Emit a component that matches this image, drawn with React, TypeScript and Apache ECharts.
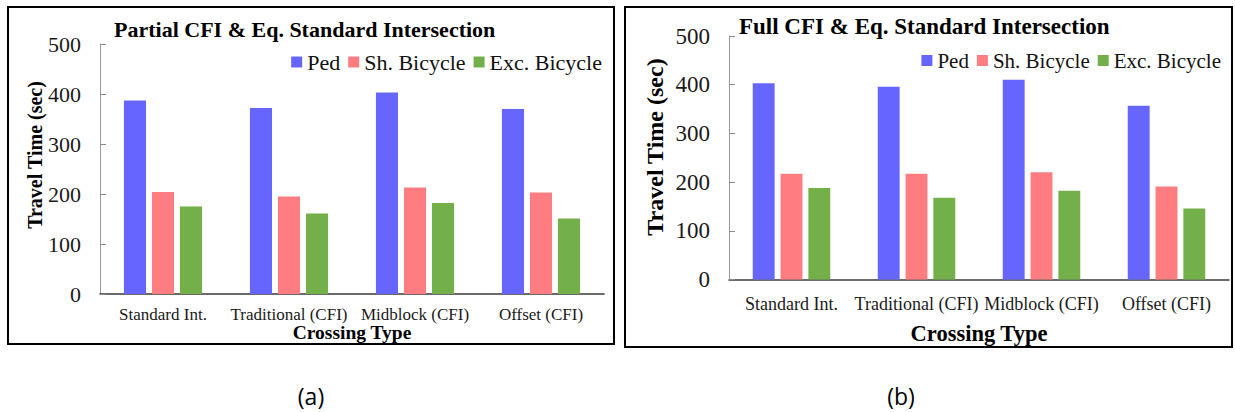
import React, { useEffect, useRef } from "react";
import * as echarts from "echarts";

// Crossing types shared by both panels
const categories = ["Standard Int.", "Traditional (CFI)", "Midblock (CFI)", "Offset (CFI)"];
const seriesNames = ["Ped", "Sh. Bicycle", "Exc. Bicycle"];

// Panel (a): Partial CFI & Eq. Standard Intersection, travel time in seconds
const partialPed = [387, 372, 403, 370];
const partialShBicycle = [204, 195, 213, 203];
const partialExcBicycle = [175, 161, 182, 151];

// Panel (b): Full CFI & Eq. Standard Intersection, travel time in seconds
const fullPed = [403, 396, 410, 357];
const fullShBicycle = [217, 217, 220, 191];
const fullExcBicycle = [188, 168, 182, 146];

// Value axis range
const yMin = 0;
const yMax = 500;
const yStep = 100;

const colors = ["#6666FF", "#FF7C80", "#74B04A"];
const SERIF = "'Liberation Serif', 'Times New Roman', serif";

function yAxis(gridIndex: number, fontSize: number) {
  return {
    type: "value",
    gridIndex,
    min: yMin,
    max: yMax,
    interval: yStep,
    axisLine: { show: true, lineStyle: { color: "#9a9a9a", width: 1 } },
    axisTick: { show: true, inside: true, length: 6, lineStyle: { color: "#8a8a8a" } },
    splitLine: { show: false },
    axisLabel: { fontFamily: SERIF, fontSize, color: "#1a1a1a", margin: 19 },
  };
}

function xAxis(gridIndex: number, fontSize: number, margin: number, nameSize: number, nameGap: number) {
  return {
    type: "category",
    gridIndex,
    data: categories,
    axisLine: { show: true, lineStyle: { color: "#3a3a3a", width: 1.5 } },
    axisTick: { show: false },
    axisLabel: { fontFamily: SERIF, fontSize, color: "#1a1a1a", margin, interval: 0 },
    name: "Crossing Type",
    nameLocation: "middle",
    nameGap,
    nameMoveOverlap: false,
    nameTextStyle: { fontFamily: SERIF, fontSize: nameSize, fontWeight: "bold", color: "#000" },
  };
}

function bars(axisIndex: number, values: number[][]) {
  return values.map((data, i) => ({
    type: "bar",
    name: seriesNames[i],
    xAxisIndex: axisIndex,
    yAxisIndex: axisIndex,
    data,
    itemStyle: { color: colors[i] },
    barGap: "27%",
    barCategoryGap: "38%",
  }));
}

function legend(right: number, top: number, fontSize: number) {
  return {
    data: seriesNames,
    right,
    top,
    icon: "rect",
    itemWidth: 11,
    itemHeight: 11,
    itemGap: 8,
    textStyle: { fontFamily: SERIF, fontSize, color: "#111" },
  };
}

export default function App() {
  const ref = useRef<HTMLDivElement>(null);

  useEffect(() => {
    if (!ref.current) return;
    const chart = echarts.init(ref.current, null, { renderer: "svg" });
    chart.setOption({
      animation: false,
      backgroundColor: "#fff",
      color: colors,
      title: [
        {
          text: "Partial CFI & Eq. Standard Intersection",
          left: 114,
          top: 18,
          padding: 0,
          textStyle: { fontFamily: SERIF, fontSize: 22, fontWeight: "bold", color: "#000" },
        },
        {
          text: "Full CFI & Eq. Standard Intersection",
          left: 739,
          top: 15,
          padding: 0,
          textStyle: { fontFamily: SERIF, fontSize: 23, fontWeight: "bold", color: "#000" },
        },
      ],
      legend: [legend(628, 46, 22), legend(9, 45, 21)],
      grid: [
        { left: 100, top: 44, width: 504, height: 250 },
        { left: 729, top: 36, width: 500, height: 243.5 },
      ],
      xAxis: [xAxis(0, 17, 12, 19.5, 28), xAxis(1, 18, 15, 22.5, 42)],
      yAxis: [yAxis(0, 22), yAxis(1, 23)],
      series: [
        ...bars(0, [partialPed, partialShBicycle, partialExcBicycle]),
        ...bars(1, [fullPed, fullShBicycle, fullExcBicycle]),
      ],
      graphic: [
        {
          type: "rect",
          shape: { x: 8, y: 7, width: 606, height: 337 },
          style: { fill: "none", stroke: "#000", lineWidth: 2 },
          silent: true,
        },
        {
          type: "rect",
          shape: { x: 625, y: 7, width: 607, height: 340 },
          style: { fill: "none", stroke: "#000", lineWidth: 2 },
          silent: true,
        },
        {
          type: "text",
          x: 35,
          y: 155,
          rotation: Math.PI / 2,
          style: {
            text: "Travel Time (sec)",
            font: `bold 20px ${SERIF}`,
            fill: "#000",
            align: "center",
            verticalAlign: "middle",
          },
        },
        {
          type: "text",
          x: 655,
          y: 147,
          rotation: Math.PI / 2,
          style: {
            text: "Travel Time (sec)",
            font: `bold 24px ${SERIF}`,
            fill: "#000",
            align: "center",
            verticalAlign: "middle",
          },
        },
        {
          type: "text",
          x: 311,
          y: 396,
          style: {
            text: "(a)",
            font: "23px 'Open Sans', sans-serif",
            fill: "#000",
            align: "center",
            verticalAlign: "middle",
          },
        },
        {
          type: "text",
          x: 901,
          y: 396,
          style: {
            text: "(b)",
            font: "23px 'Open Sans', sans-serif",
            fill: "#000",
            align: "center",
            verticalAlign: "middle",
          },
        },
      ],
    });
    return () => chart.dispose();
  }, []);

  return (
    <div
      ref={ref}
      style={{ position: "absolute", left: 0, top: 0, width: 1235, height: 412 }}
    />
  );
}
